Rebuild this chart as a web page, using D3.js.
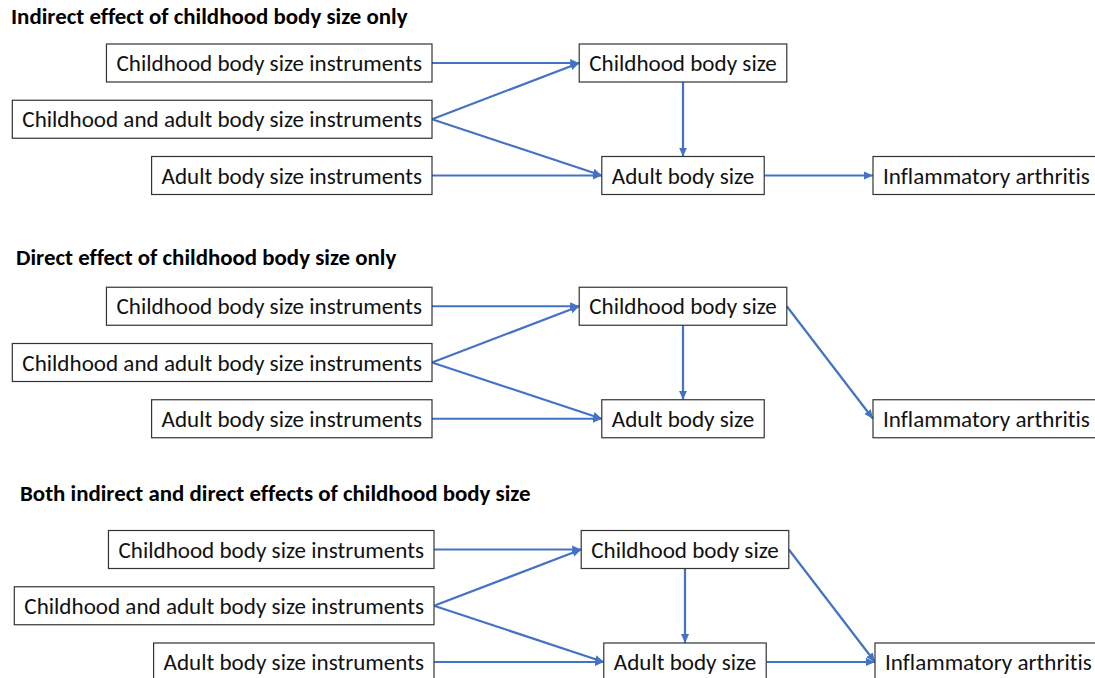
<!DOCTYPE html>
<html>
<head>
<meta charset="utf-8">
<script src="https://cdn.jsdelivr.net/npm/d3@7"></script>
<style>
  html, body { margin: 0; padding: 0; background: #fff; overflow: hidden; }
  text { font-family: Carlito, Calibri, Lato, sans-serif; font-variant-ligatures: none; font-feature-settings: "liga" 0, "clig" 0; }
</style>
</head>
<body>
<script>
var width = 1095;
var height = 678;

// panel titles
var titles = [
  "Indirect effect of childhood body size only",
  "Direct effect of childhood body size only",
  "Both indirect and direct effects of childhood body size"
];

// nodes: id, label, column, row
var nodeIds    = ["cInst", "caInst", "aInst", "cSize", "aSize", "ia"];
var nodeLabels = [
  "Childhood body size instruments",
  "Childhood and adult body size instruments",
  "Adult body size instruments",
  "Childhood body size",
  "Adult body size",
  "Inflammatory arthritis"
];
var nodeCols = ["inst", "inst", "inst", "mid", "mid", "out"];
var nodeRows = [0, 1, 2, 0, 2, 2];

// edges of each panel [source, target]
var edges1 = [["cInst", "cSize"], ["caInst", "cSize"], ["caInst", "aSize"], ["aInst", "aSize"], ["cSize", "aSize"], ["aSize", "ia"]];
var edges2 = [["cInst", "cSize"], ["caInst", "cSize"], ["caInst", "aSize"], ["aInst", "aSize"], ["cSize", "aSize"], ["cSize", "ia"]];
var edges3 = [["cInst", "cSize"], ["caInst", "cSize"], ["caInst", "aSize"], ["aInst", "aSize"], ["cSize", "aSize"], ["aSize", "ia"], ["cSize", "ia"]];
var panelEdges = [edges1, edges2, edges3];

// layout
var blue = "#4472C4";
var boxH = 38, padX = 10;
var fontSize = 23.1;
var titleSize = 22.9;
var panelY = d3.scaleLinear().domain([0, 2]).range([0, 486.5]);
var rowY = d3.scaleLinear().domain([0, 2]).range([63, 175.5]);
var colX = d3.scaleOrdinal().domain(["inst", "mid", "out"]).range([432, 683, 873]);
var panelDx = [0, 0, 2];
var titleX = [11, 16, 20];
var titleY = [24, 265, 501];

var svg = d3.select("body")
  .append("svg")
  .attr("width", width)
  .attr("height", height);

svg.append("defs")
  .append("marker")
  .attr("id", "arrow")
  .attr("viewBox", "0 -5 10 10")
  .attr("refX", 10)
  .attr("refY", 0)
  .attr("markerUnits", "userSpaceOnUse")
  .attr("markerWidth", 9)
  .attr("markerHeight", 9)
  .attr("orient", "auto")
  .append("path")
  .attr("d", "M0,-4.5L10,0L0,4.5Z")
  .attr("fill", blue);

// measure label widths
var meas = svg.append("text").attr("font-size", fontSize);
var textW = nodeLabels.map(function (l) {
  meas.text(l);
  return meas.node().getComputedTextLength();
});
meas.remove();

function layoutNodes(p) {
  var boxes = {};
  nodeIds.forEach(function (id, i) {
    var w = textW[i] + 2 * padX;
    var col = nodeCols[i];
    var x0;
    if (col === "inst") x0 = colX(col) - w;
    else if (col === "mid") x0 = colX(col) - w / 2;
    else x0 = colX(col);
    x0 += panelDx[p];
    var cy = panelY(p) + rowY(nodeRows[i]);
    boxes[id] = { id: id, label: nodeLabels[i], col: col, x: x0, y: cy - boxH / 2, w: w, h: boxH, cy: cy };
  });
  return boxes;
}

titles.forEach(function (t, p) {
  var g = svg.append("g");
  var boxes = layoutNodes(p);

  g.append("text")
    .attr("x", titleX[p])
    .attr("y", titleY[p])
    .attr("font-size", titleSize)
    .attr("font-weight", "bold")
    .attr("fill", "#000")
    .text(t);

  // arrows
  g.selectAll("line.edge")
    .data(panelEdges[p])
    .enter()
    .append("line")
    .attr("class", "edge")
    .each(function (e) {
      var s = boxes[e[0]], d = boxes[e[1]];
      var x1, y1, x2, y2;
      if (s.col === d.col) {
        x1 = s.x + s.w / 2; y1 = s.y + s.h;
        x2 = d.x + d.w / 2; y2 = d.y;
      } else {
        x1 = s.x + s.w; y1 = s.cy;
        x2 = d.x; y2 = d.cy;
      }
      d3.select(this)
        .attr("x1", x1).attr("y1", y1)
        .attr("x2", x2).attr("y2", y2);
    })
    .attr("stroke", blue)
    .attr("stroke-width", 2.2)
    .attr("marker-end", "url(#arrow)");

  // boxes
  var node = g.selectAll("g.node")
    .data(Object.values(boxes))
    .enter()
    .append("g")
    .attr("class", "node");

  node.append("rect")
    .attr("x", function (d) { return d.x; })
    .attr("y", function (d) { return d.y; })
    .attr("width", function (d) { return d.w; })
    .attr("height", function (d) { return d.h; })
    .attr("fill", "#fff")
    .attr("stroke", "#333")
    .attr("stroke-width", 1.2);

  node.append("text")
    .attr("x", function (d) { return d.x + padX; })
    .attr("y", function (d) { return d.cy; })
    .attr("dy", "0.35em")
    .attr("font-size", fontSize)
    .attr("fill", "#111")
    .text(function (d) { return d.label; });
});
</script>
</body>
</html>
